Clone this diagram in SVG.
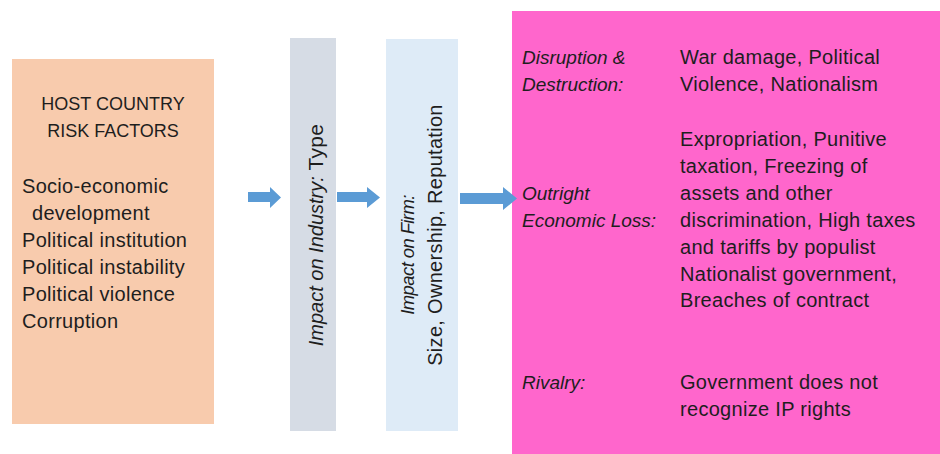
<svg xmlns="http://www.w3.org/2000/svg" width="940" height="454" viewBox="0 0 940 454">
<style>
  text { font-family: "Liberation Sans", Arial, sans-serif; font-size: 20px; letter-spacing: 0.3px; fill: #1e1e1e; }
  .it { font-style: italic; font-size: 19px; letter-spacing: 0; }
  .hd { font-size: 18px; letter-spacing: 0; }
  .mid { text-anchor: middle; }
  .arrow { fill: #5B9BD5; }
</style>
<rect width="940" height="454" fill="#ffffff"/>
<g id="host-country">
  <rect x="12" y="59" width="202" height="365" fill="#F8CBAD"/>
  <text class="mid hd" x="113" y="110">HOST COUNTRY</text>
  <text class="mid hd" x="113" y="137">RISK FACTORS</text>
  <text x="22" y="193">Socio-economic</text>
  <text x="32" y="220">development</text>
  <text x="22" y="247">Political institution</text>
  <text x="22" y="274">Political instability</text>
  <text x="22" y="301">Political violence</text>
  <text x="22" y="328">Corruption</text>
</g>
<g id="industry">
  <rect x="290" y="38" width="46" height="393" fill="#D6DCE5"/>
  <text class="mid" style="font-size:21px" transform="translate(323,235) rotate(-90)"><tspan class="it" style="font-size:20px">Impact on Industry:</tspan> Type</text>
</g>
<g id="firm">
  <rect x="386" y="39" width="72" height="392" fill="#DEEBF7"/>
  <text class="mid it" style="font-size:18.5px;letter-spacing:-0.6px" transform="translate(414,255) rotate(-90)">Impact on Firm:</text>
  <text class="mid" transform="translate(442,235) rotate(-90)">Size, Ownership, Reputation</text>
</g>
<g id="outcomes">
  <rect x="512" y="11" width="428" height="443" fill="#FF66CC"/>
  <text class="it" x="522" y="64">Disruption &amp;</text>
  <text class="it" x="522" y="91">Destruction:</text>
  <text x="680" y="64">War damage, Political</text>
  <text x="680" y="91">Violence, Nationalism</text>
  <text x="680" y="146">Expropriation, Punitive</text>
  <text x="680" y="173">taxation, Freezing of</text>
  <text class="it" x="522" y="200">Outright</text>
  <text x="680" y="200">assets and other</text>
  <text class="it" x="522" y="227">Economic Loss:</text>
  <text x="680" y="227">discrimination, High taxes</text>
  <text x="680" y="254">and tariffs by populist</text>
  <text x="680" y="281">Nationalist government,</text>
  <text x="680" y="307">Breaches of contract</text>
  <text class="it" x="522" y="389">Rivalry:</text>
  <text x="680" y="389">Government does not</text>
  <text x="680" y="416">recognize IP rights</text>
</g>
<g id="connectors">
  <polygon class="arrow" points="248,192 270,192 270,187 281,197.5 270,208 270,202 248,202"/>
  <polygon class="arrow" points="337,192 367,192 367,187 380,197.5 367,208 367,202 337,202"/>
  <polygon class="arrow" points="460,193 503,193 503,187 517,198.5 503,210 503,204 460,204"/>
</g>
</svg>
